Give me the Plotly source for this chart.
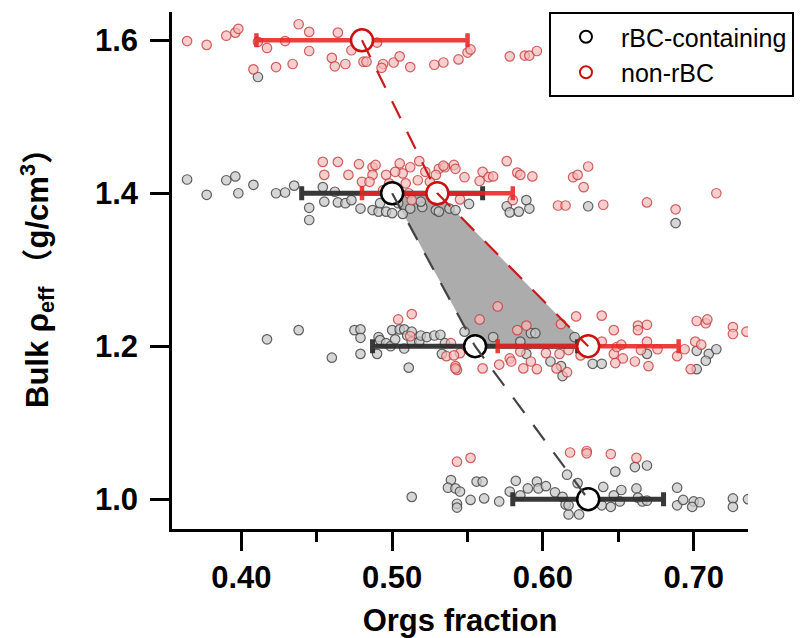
import plotly.graph_objects as go

# ---------------- data ----------------
# mean values (orgs fraction, bulk density) and x error half-widths
rbc_mean_x = [0.500, 0.555, 0.630]
rbc_mean_y = [1.40, 1.20, 1.00]
rbc_err = [0.060, 0.068, 0.050]

non_mean_x = [0.480, 0.530, 0.630]
non_mean_y = [1.60, 1.40, 1.20]
non_err = [0.070, 0.050, 0.060]

# individual particles, rBC-containing (gray)
rbc_x = [
    0.411,
    0.364, 0.377, 0.390, 0.396, 0.398, 0.408, 0.423, 0.429, 0.435, 0.445, 0.445, 0.454, 0.455,
    0.462, 0.464, 0.469, 0.473, 0.479, 0.487, 0.491, 0.496, 0.500, 0.507, 0.512, 0.520, 0.529,
    0.492, 0.504, 0.519, 0.531, 0.538, 0.542, 0.551, 0.576, 0.578, 0.584, 0.589, 0.591, 0.630, 0.688,
    0.417, 0.438, 0.460, 0.475, 0.479, 0.479, 0.479, 0.491, 0.492, 0.490, 0.496, 0.499, 0.500,
    0.502, 0.505, 0.508, 0.508, 0.510, 0.513, 0.513, 0.518, 0.519, 0.523, 0.528, 0.532, 0.535,
    0.533, 0.511, 0.548, 0.567, 0.592, 0.595, 0.585, 0.605, 0.612, 0.613, 0.633, 0.639, 0.621,
    0.702, 0.710, 0.715, 0.708, 0.702, 0.589, 0.669,
    0.513, 0.539, 0.537, 0.542, 0.545, 0.543, 0.543, 0.552, 0.556, 0.560, 0.561, 0.571, 0.578,
    0.582, 0.585, 0.590, 0.596, 0.597, 0.602, 0.608, 0.613, 0.615, 0.617, 0.624, 0.616, 0.623,
    0.617, 0.640, 0.639, 0.647, 0.645, 0.648, 0.651, 0.652, 0.661, 0.669, 0.662, 0.663, 0.666,
    0.669, 0.689, 0.689, 0.693, 0.700, 0.699, 0.704, 0.726, 0.726, 0.736,
]
rbc_y = [
    1.552,
    1.418, 1.398, 1.417, 1.422, 1.400, 1.411, 1.400, 1.401, 1.410, 1.381, 1.365, 1.408, 1.389,
    1.402, 1.388, 1.387, 1.391, 1.380, 1.378, 1.376, 1.376, 1.374, 1.373, 1.380, 1.382, 1.378,
    1.387, 1.387, 1.389, 1.376, 1.380, 1.378, 1.386, 1.383, 1.375, 1.376, 1.391, 1.380, 1.383, 1.361,
    1.209, 1.221, 1.185, 1.221, 1.222, 1.211, 1.190, 1.212, 1.208, 1.190, 1.204, 1.200, 1.221,
    1.209, 1.222, 1.222, 1.197, 1.214, 1.219, 1.206, 1.206, 1.214, 1.212, 1.214, 1.215, 1.204,
    1.190, 1.172, 1.219, 1.212, 1.217, 1.217, 1.206, 1.180, 1.174, 1.161, 1.177, 1.177, 1.212,
    1.194, 1.190, 1.196, 1.181, 1.170, 1.190, 1.190,
    1.003, 1.025, 1.015, 1.014, 1.010, 0.994, 0.989, 0.999, 1.023, 1.023, 1.001, 0.997, 1.010,
    1.024, 1.005, 1.014, 1.023, 1.014, 1.017, 1.009, 1.003, 0.993, 0.980, 0.980, 1.032, 1.021,
    0.992, 1.016, 0.992, 1.005, 0.990, 1.036, 0.997, 1.012, 1.042, 1.044, 1.014, 1.002, 0.997,
    0.998, 1.015, 0.992, 0.999, 0.997, 0.990, 0.996, 1.001, 0.990, 1.000,
]

# individual particles, non-rBC (red)
non_x = [
    0.364, 0.377, 0.390, 0.396, 0.398, 0.411, 0.417, 0.408, 0.423, 0.429, 0.434, 0.438, 0.445,
    0.445, 0.460, 0.462, 0.464, 0.469, 0.473, 0.481, 0.483, 0.490, 0.494, 0.493, 0.501, 0.505,
    0.512, 0.528, 0.534, 0.544, 0.550, 0.552, 0.578, 0.588, 0.591, 0.596,
    0.454, 0.464, 0.471, 0.455, 0.478, 0.480, 0.487, 0.489, 0.487, 0.496, 0.505, 0.507, 0.509,
    0.512, 0.518, 0.522, 0.525, 0.531, 0.535, 0.494, 0.511, 0.513, 0.485, 0.498, 0.502, 0.517,
    0.529, 0.534, 0.541, 0.542, 0.548, 0.560, 0.558, 0.564, 0.567, 0.576, 0.583, 0.585, 0.593,
    0.545, 0.580, 0.610, 0.615, 0.620, 0.623, 0.630, 0.627, 0.640, 0.669, 0.688, 0.715,
    0.504, 0.513, 0.512, 0.539, 0.536, 0.542, 0.543, 0.545,
    0.570, 0.558, 0.589, 0.583, 0.612, 0.622, 0.639, 0.647, 0.663, 0.669, 0.663, 0.702, 0.708,
    0.709, 0.726, 0.726, 0.735, 0.541, 0.542, 0.560, 0.571, 0.578, 0.579, 0.585, 0.592,
    0.587, 0.596, 0.602, 0.609, 0.616, 0.611, 0.617, 0.625, 0.639, 0.647, 0.649, 0.652, 0.653,
    0.648, 0.661, 0.665, 0.669, 0.670, 0.676, 0.689, 0.694, 0.701, 0.705, 0.698,
    0.543, 0.552, 0.618, 0.629, 0.629, 0.645, 0.662,
]
non_y = [
    1.599, 1.594, 1.606, 1.610, 1.615, 1.598, 1.590, 1.562, 1.565, 1.599, 1.569, 1.621, 1.611,
    1.586, 1.577, 1.566, 1.610, 1.569, 1.587, 1.572, 1.572, 1.597, 1.569, 1.564, 1.571, 1.579,
    1.565, 1.568, 1.571, 1.575, 1.584, 1.588, 1.579, 1.580, 1.580, 1.586,
    1.441, 1.441, 1.424, 1.424, 1.438, 1.415, 1.434, 1.437, 1.424, 1.424, 1.439, 1.426, 1.413,
    1.434, 1.442, 1.428, 1.415, 1.432, 1.434, 1.404, 1.400, 1.391, 1.415, 1.413, 1.428, 1.417,
    1.424, 1.436, 1.437, 1.432, 1.421, 1.428, 1.416, 1.421, 1.422, 1.442, 1.427, 1.424, 1.422,
    1.392, 1.391, 1.384, 1.384, 1.421, 1.424, 1.435, 1.408, 1.385, 1.388, 1.379, 1.400,
    1.235, 1.242, 1.213, 1.204, 1.187, 1.174, 1.169, 1.191,
    1.252, 1.235, 1.227, 1.221, 1.229, 1.239, 1.240, 1.221, 1.227, 1.228, 1.221, 1.233, 1.230,
    1.235, 1.225, 1.216, 1.219, 1.188, 1.171, 1.171, 1.176, 1.184, 1.180, 1.193, 1.180,
    1.171, 1.170, 1.191, 1.171, 1.166, 1.190, 1.195, 1.188, 1.206, 1.190, 1.199, 1.202, 1.184,
    1.178, 1.180, 1.195, 1.206, 1.174, 1.196, 1.187, 1.196, 1.206, 1.202, 1.170,
    1.049, 1.054, 1.061, 1.063, 1.060, 1.059, 1.054,
]

x_ticks = [0.40, 0.50, 0.60, 0.70]
x_minor = [0.45, 0.55, 0.65]
y_ticks = [1.0, 1.2, 1.4, 1.6]

# ---------------- figure ----------------
FONT = "Liberation Sans, Arial, Noto Sans CJK SC, sans-serif"
CJK = "Noto Sans CJK SC"
fig = go.Figure()

# shaded region between the two trend lines (1.4 -> 1.2)
poly_x = [rbc_mean_x[0], non_mean_x[1], non_mean_x[2], rbc_mean_x[1], rbc_mean_x[0]]
poly_y = [rbc_mean_y[0], non_mean_y[1], non_mean_y[2], rbc_mean_y[1], rbc_mean_y[0]]
fig.add_trace(go.Scatter(x=poly_x, y=poly_y, mode="lines", fill="toself",
                         fillcolor="rgba(160,160,160,0.88)", line=dict(width=0),
                         hoverinfo="skip", showlegend=False))

fig.add_trace(go.Scatter(x=rbc_x, y=rbc_y, mode="markers", showlegend=False,
                         marker=dict(size=9.5, color="rgba(200,200,200,0.75)",
                                     line=dict(color="rgba(70,70,70,0.85)", width=1.2))))
fig.add_trace(go.Scatter(x=non_x, y=non_y, mode="markers", showlegend=False,
                         marker=dict(size=9.5, color="rgba(245,185,185,0.7)",
                                     line=dict(color="rgba(195,60,60,0.8)", width=1.2))))

# error bars
fig.add_trace(go.Scatter(x=rbc_mean_x, y=rbc_mean_y, mode="markers", showlegend=False,
                         marker=dict(size=1, color="rgba(0,0,0,0)"),
                         error_x=dict(type="data", array=rbc_err, color="rgba(45,45,45,0.95)",
                                      thickness=5, width=7)))
fig.add_trace(go.Scatter(x=non_mean_x, y=non_mean_y, mode="markers", showlegend=False,
                         marker=dict(size=1, color="rgba(0,0,0,0)"),
                         error_x=dict(type="data", array=non_err, color="rgba(235,35,35,0.88)",
                                      thickness=4.5, width=7)))

# mean markers
fig.add_trace(go.Scatter(x=rbc_mean_x, y=rbc_mean_y, mode="markers", showlegend=False,
                         marker=dict(size=22, color="white", line=dict(color="black", width=2.5))))
fig.add_trace(go.Scatter(x=non_mean_x, y=non_mean_y, mode="markers", showlegend=False,
                         marker=dict(size=22, color="white", line=dict(color="#cc1010", width=2.5))))

# dashed trend lines
fig.add_trace(go.Scatter(x=rbc_mean_x, y=rbc_mean_y, mode="lines", showlegend=False,
                         line=dict(color="#444444", width=2.2, dash="19px,15px")))
fig.add_trace(go.Scatter(x=non_mean_x, y=non_mean_y, mode="lines", showlegend=False,
                         line=dict(color="#cc1a1a", width=2.2, dash="19px,15px")))

# legend entries
fig.add_trace(go.Scatter(x=[None], y=[None], mode="markers", name="rBC-containing",
                         marker=dict(size=15, color="white", line=dict(color="black", width=2.5))))
fig.add_trace(go.Scatter(x=[None], y=[None], mode="markers", name="non-rBC",
                         marker=dict(size=15, color="white", line=dict(color="#cc1010", width=2.5))))

ytitle = ("Bulk ρ<sub>eff</sub>"
          f"<span style='font-family:{CJK}'> （</span>g/cm<sup>3</sup>"
          f"<span style='font-family:{CJK}'>）</span>")

# the page body has an 8px margin, so the figure is 8px smaller than the window
fig.update_layout(
    width=796, height=630,
    margin=dict(l=164, r=56, t=4, b=109),
    plot_bgcolor="white", paper_bgcolor="white",
    font=dict(family=FONT, color="black"),
    legend=dict(x=0.6545, y=1.0, xanchor="left", yanchor="top",
                bordercolor="black", borderwidth=2, bgcolor="white",
                font=dict(size=25, family=FONT), itemsizing="constant",
                tracegroupgap=0, itemwidth=60),
    xaxis=dict(range=[0.354, 0.736], tickvals=x_ticks,
               ticktext=[f"{v:.2f}" for v in x_ticks],
               showline=True, linecolor="black", linewidth=2.5,
               ticks="outside", ticklen=19, tickwidth=2.5, tickcolor="black",
               minor=dict(tickvals=x_minor, ticks="outside", ticklen=10, tickwidth=2.5,
                          tickcolor="black"),
               showgrid=False, zeroline=False, ticklabelstandoff=0, automargin=False,
               tickfont=dict(size=31, family=FONT, weight="bold"),
               title=dict(text="Orgs fraction", standoff=17,
                          font=dict(size=31, family=FONT, weight="bold"))),
    yaxis=dict(range=[0.961, 1.637], tickvals=y_ticks,
               ticktext=[f"{v:.1f}" for v in y_ticks],
               showline=True, linecolor="black", linewidth=2.5,
               ticks="outside", ticklen=19, tickwidth=2.5, tickcolor="black",
               showgrid=False, zeroline=False, ticklabelstandoff=6, automargin=False,
               tickfont=dict(size=31, family=FONT, weight="bold"),
               title=dict(text=ytitle, standoff=38,
                          font=dict(size=31, family=FONT, weight="bold"))),
)

fig.write_html("out.html")
